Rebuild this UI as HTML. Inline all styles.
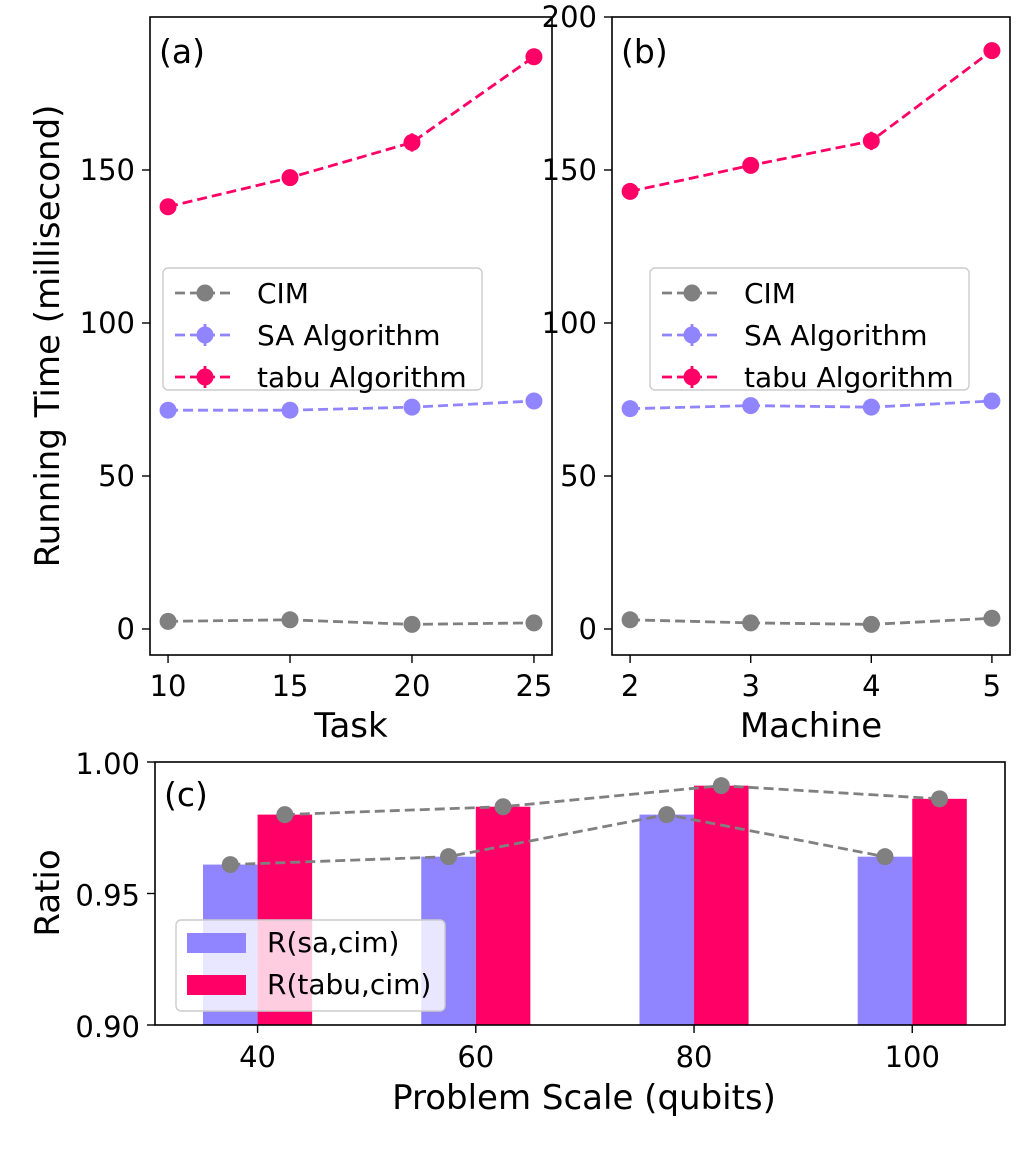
<!DOCTYPE html>
<html><head><meta charset="utf-8"><style>
body{margin:0;background:#fff}
svg text{font-family:"DejaVu Sans","Liberation Sans",sans-serif;fill:#000}
</style></head><body>
<svg id="c" width="1028" height="1158" xmlns="http://www.w3.org/2000/svg"></svg>
<script>
const taskX=[10,15,20,25];
const tabuA=[138,147.5,159,187];
const saA=[71.5,71.5,72.5,74.5];
const cimA=[2.5,3,1.5,2];
const tabuAErr=[1.5,1.5,3,1.5];
const machX=[2,3,4,5];
const tabuB=[143,151.5,159.5,189];
const saB=[72,73,72.5,74.5];
const cimB=[3,2,1.5,3.5];
const tabuBErr=[1.5,1.5,3,1.5];
const scaleX=[40,60,80,100];
const ratioSa=[0.961,0.964,0.980,0.964];
const ratioTabu=[0.980,0.983,0.991,0.986];
const yTicksAB=[0,50,100,150,200];
const yTicksC=[0.90,0.95,1.00];

const svg=document.getElementById('c');
const NS='http://www.w3.org/2000/svg';
function el(t,a,p){const e=document.createElementNS(NS,t);for(const k in a)e.setAttribute(k,a[k]);(p||svg).appendChild(e);return e;}
function txt(s,a,p){const e=el('text',a,p);e.textContent=s;return e;}
const GRAY='#808080',SA='#9184ff',TABU='#ff0066';
const TF=29,LF=34,GF=28,MR=8.5;

function panel(name,L,R,T,B,xmin,xmax,ymin,ymax,xs,series,xticks,yticks,xlabel,tag,legX){
  const g=el('g',{});
  
  
  const sx=v=>L+(v-xmin)/(xmax-xmin)*(R-L);
  const sy=v=>B-(v-ymin)/(ymax-ymin)*(B-T);
  series.forEach(s=>{
    const sg=el('g',{},g);
    
    
    el('polyline',{points:xs.map((x,i)=>sx(x)+','+sy(s.v[i])).join(' '),fill:'none',stroke:s.c,'stroke-width':2.8,'stroke-dasharray':'10,5'},sg);
    xs.forEach((x,i)=>{
      if(s.err){el('line',{x1:sx(x),x2:sx(x),y1:sy(s.v[i]-s.err[i]),y2:sy(s.v[i]+s.err[i]),stroke:s.c,'stroke-width':2.8},sg);}
      const m=el('circle',{cx:sx(x),cy:sy(s.v[i]),r:MR,fill:s.c},sg);
      
      
    });
  });
  el('rect',{x:L,y:T,width:R-L,height:B-T,fill:'none',stroke:'#000','stroke-width':1.6},g);
  xticks.forEach(v=>{el('line',{x1:sx(v),x2:sx(v),y1:B,y2:B+8,stroke:'#000','stroke-width':1.4},g);
    txt(String(v),{x:sx(v),y:B+41,'font-size':TF,'text-anchor':'middle'},g);});
  yticks.forEach(v=>{if(v>ymax+0.01)return;el('line',{x1:L-8,x2:L,y1:sy(v),y2:sy(v),stroke:'#000','stroke-width':1.4},g);
    txt(String(v),{x:L-15,y:sy(v)+10,'font-size':TF,'text-anchor':'end'},g);});
  txt(xlabel,{x:(L+R)/2,y:B+82,'font-size':LF,'text-anchor':'middle'},g);
  txt(tag,{x:L+9,y:T+46,'font-size':33},g);
  const lg=el('g',{},g);
  
  
  el('rect',{x:legX,y:268,width:319,height:122,rx:5,fill:'#fff','fill-opacity':0.8,stroke:'#ccc','stroke-width':1.4},lg);
  const names=['CIM','SA Algorithm','tabu Algorithm'],cols=[GRAY,SA,TABU];
  names.forEach((n,i)=>{const y=293+i*42;
    const e=el('g',{},lg);
    
    
    el('line',{x1:legX+12,x2:legX+70,y1:y,y2:y,stroke:cols[i],'stroke-width':2.8,'stroke-dasharray':'10,5'},e);
    if(i>0)el('line',{x1:legX+42,x2:legX+42,y1:y-11,y2:y+11,stroke:cols[i],'stroke-width':2.8},e);
    el('circle',{cx:legX+42,cy:y,r:MR,fill:cols[i]},e);
    txt(n,{x:legX+94,y:y+10,'font-size':GF},e);});
}
panel('panel-a',150,552,17,655,9.26,25.74,-8.5,200,taskX,
 [{name:'cim-line',v:cimA,c:GRAY},{name:'sa-line',v:saA,c:SA},{name:'tabu-line',v:tabuA,c:TABU,err:tabuAErr}],
 taskX,yTicksAB.slice(0,4),'Task','(a)',163);
panel('panel-b',612,1010,17,655,1.85,5.15,-8.5,200,machX,
 [{name:'cim-line',v:cimB,c:GRAY},{name:'sa-line',v:saB,c:SA},{name:'tabu-line',v:tabuB,c:TABU,err:tabuBErr}],
 machX,yTicksAB,'Machine','(b)',650);
const yl=txt('Running Time (millisecond)',{x:0,y:0,'font-size':LF,'text-anchor':'middle',transform:'translate(59,336) rotate(-90)'});


(function(){
  const L=155,R=1005,T=762,B=1025,xmin=30.6,xmax=108.5,ymin=0.9,ymax=1.0;
  const sx=v=>L+(v-xmin)/(xmax-xmin)*(R-L);
  const sy=v=>B-(v-ymin)/(ymax-ymin)*(B-T);
  const g=el('g',{});
  
  
  const bw=5;
  scaleX.forEach((x,i)=>{
    const b1=el('rect',{x:sx(x-bw),y:sy(ratioSa[i]),width:sx(x)-sx(x-bw),height:B-sy(ratioSa[i]),fill:SA},g);
    
    const b2=el('rect',{x:sx(x),y:sy(ratioTabu[i]),width:sx(x+bw)-sx(x),height:B-sy(ratioTabu[i]),fill:TABU},g);
    
  });
  [[ratioSa,-bw/2],[ratioTabu,bw/2]].forEach(([arr,off])=>{
    el('polyline',{points:scaleX.map((x,i)=>sx(x+off)+','+sy(arr[i])).join(' '),fill:'none',stroke:GRAY,'stroke-width':2.8,'stroke-dasharray':'10,5'},g);
    scaleX.forEach((x,i)=>el('circle',{cx:sx(x+off),cy:sy(arr[i]),r:MR,fill:GRAY},g));
  });
  el('rect',{x:L,y:T,width:R-L,height:B-T,fill:'none',stroke:'#000','stroke-width':1.6},g);
  scaleX.forEach(v=>{el('line',{x1:sx(v),x2:sx(v),y1:B,y2:B+8,stroke:'#000','stroke-width':1.4},g);
    txt(String(v),{x:sx(v),y:B+42,'font-size':TF,'text-anchor':'middle'},g);});
  yTicksC.forEach(v=>{el('line',{x1:L-8,x2:L,y1:sy(v),y2:sy(v),stroke:'#000','stroke-width':1.4},g);
    txt(v.toFixed(2),{x:L-15,y:sy(v)+12,'font-size':TF,'text-anchor':'end'},g);});
  txt('(c)',{x:L+9,y:T+44,'font-size':33},g);
  txt('Problem Scale (qubits)',{x:584,y:1109,'font-size':LF,'text-anchor':'middle'},g);
  txt('Ratio',{x:0,y:0,'font-size':LF,'text-anchor':'middle',transform:'translate(59,893) rotate(-90)'},g);
  const lg=el('g',{},g);
  
  
  el('rect',{x:176,y:920,width:269,height:91,rx:5,fill:'#fff','fill-opacity':0.8,stroke:'#ccc','stroke-width':1.4},lg);
  el('rect',{x:187,y:933,width:59,height:20,fill:SA},lg);
  txt('R(sa,cim)',{x:267,y:952,'font-size':GF},lg);
  el('rect',{x:187,y:975,width:59,height:20,fill:TABU},lg);
  txt('R(tabu,cim)',{x:267,y:994,'font-size':GF},lg);
})();
</script>
</body></html>
